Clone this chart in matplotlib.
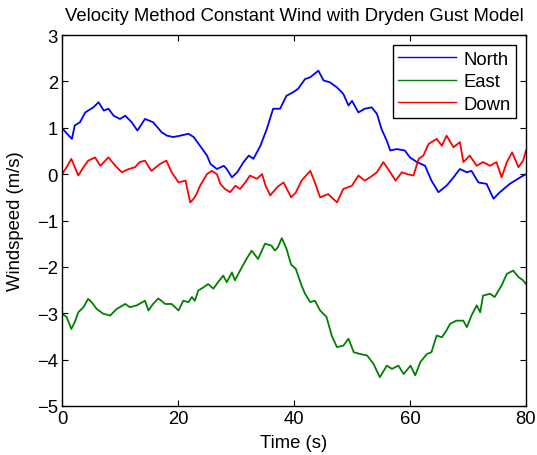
import matplotlib.pyplot as plt

plt.rcParams['font.family'] = ['Liberation Sans', 'DejaVu Sans']

# North (blue)
t_north = [0.0, 0.5, 1.7, 2.2, 3.1, 4.0, 5.4, 6.3, 7.2, 8.0, 8.9, 10.0, 10.9, 12.0, 13.0,
           14.3, 15.7, 17.2, 18.1, 19.2, 20.4, 21.8, 22.7, 23.8, 25.0, 25.6, 26.7, 27.9,
           28.4, 29.3, 30.2, 31.3, 32.2, 33.0, 34.2, 35.3, 36.4, 37.6, 38.7, 39.9, 40.7,
           41.9, 42.8, 44.2, 45.1, 46.2, 47.4, 48.5, 49.4, 50.0, 51.1, 52.2, 53.4, 54.3,
           55.1, 56.0, 56.6, 57.7, 59.1, 60.0, 61.2, 62.6, 63.7, 64.9, 66.3, 67.5, 68.6,
           69.8, 70.6, 71.8, 73.2, 74.4, 75.5, 77.2, 79.0, 80.0]
north = [1.0, 0.92, 0.76, 1.05, 1.12, 1.33, 1.44, 1.55, 1.37, 1.41, 1.26, 1.19, 1.26, 1.12, 0.94,
         1.19, 1.12, 0.90, 0.83, 0.80, 0.83, 0.87, 0.80, 0.61, 0.40, 0.22, 0.11, 0.18,
         0.11, -0.07, 0.04, 0.26, 0.40, 0.33, 0.61, 0.97, 1.41, 1.41, 1.69, 1.77, 1.84,
         2.05, 2.09, 2.23, 2.02, 1.98, 1.87, 1.73, 1.48, 1.58, 1.33, 1.41, 1.44, 1.30,
         0.97, 0.72, 0.51, 0.54, 0.51, 0.36, 0.26, 0.18, -0.14, -0.39, -0.25, -0.07, 0.11,
         0.04, 0.07, -0.18, -0.21, -0.53, -0.39, -0.21, -0.07, 0.0]

# East (green)
t_east = [0.0, 0.8, 1.6, 2.2, 2.8, 3.7, 4.5, 5.1, 6.0, 7.1, 8.3, 9.4, 10.9, 11.7, 12.9,
          14.3, 14.9, 15.7, 16.6, 17.8, 18.9, 20.1, 20.9, 21.8, 22.4, 22.9, 23.5, 24.4,
          25.2, 26.1, 26.9, 27.8, 28.4, 29.3, 29.8, 30.7, 31.8, 32.7, 33.8, 35.0, 36.1,
          36.7, 37.2, 37.9, 38.7, 39.5, 40.3, 41.3, 41.9, 42.8, 43.6, 44.5, 45.6, 46.5,
          47.4, 48.5, 49.4, 50.3, 51.4, 52.6, 53.7, 54.8, 56.0, 56.9, 58.0, 58.9, 60.1,
          60.9, 61.8, 62.9, 63.7, 64.6, 65.5, 66.3, 66.9, 68.0, 69.2, 69.8, 70.6, 71.5,
          72.1, 72.6, 73.8, 74.6, 75.8, 76.7, 77.8, 78.7, 79.5, 80.0]
east = [-3.01, -3.08, -3.34, -3.19, -2.98, -2.87, -2.69, -2.76, -2.91, -3.01, -3.05, -2.91, -2.80, -2.87, -2.83,
        -2.73, -2.94, -2.80, -2.68, -2.80, -2.80, -2.94, -2.73, -2.76, -2.65, -2.73, -2.51, -2.44,
        -2.37, -2.47, -2.33, -2.19, -2.33, -2.12, -2.29, -2.08, -1.83, -1.65, -1.83, -1.50, -1.54,
        -1.65, -1.58, -1.38, -1.61, -1.95, -2.04, -2.40, -2.58, -2.76, -2.73, -2.94, -3.08, -3.48,
        -3.73, -3.70, -3.55, -3.84, -3.88, -3.91, -4.09, -4.38, -4.13, -4.20, -4.13, -4.31, -4.13,
        -4.34, -4.05, -3.88, -3.84, -3.48, -3.52, -3.37, -3.23, -3.16, -3.16, -3.30, -3.05, -2.83,
        -2.98, -2.62, -2.58, -2.65, -2.40, -2.15, -2.08, -2.22, -2.29, -2.37]

# Down (red)
t_down = [0.0, 0.8, 1.6, 2.8, 3.7, 4.5, 5.7, 6.6, 8.0, 9.2, 10.3, 11.5, 12.6, 13.4, 14.3,
          15.4, 16.9, 18.0, 18.9, 20.1, 21.3, 22.1, 22.7, 23.2, 23.8, 25.0, 25.8, 26.7,
          27.3, 28.1, 29.0, 29.9, 30.7, 31.6, 32.4, 33.6, 34.5, 35.1, 35.9, 37.1, 38.2,
          39.5, 40.3, 41.3, 42.8, 43.6, 44.5, 45.9, 47.4, 48.5, 50.0, 51.1, 52.2, 53.1,
          54.3, 55.4, 56.6, 57.5, 58.6, 59.5, 60.6, 61.5, 62.3, 63.2, 64.6, 65.5, 66.3,
          67.5, 68.6, 69.2, 70.3, 71.5, 72.6, 73.8, 74.9, 75.8, 76.7, 77.6, 78.7, 79.5, 80.0]
down = [0.0, 0.15, 0.33, -0.03, 0.15, 0.29, 0.36, 0.18, 0.36, 0.18, 0.04, 0.11, 0.15, 0.26, 0.29,
        0.07, 0.22, 0.29, 0.04, -0.18, -0.14, -0.61, -0.53, -0.43, -0.25, 0.0, 0.07, 0.0,
        -0.21, -0.32, -0.39, -0.25, -0.32, -0.18, -0.03, -0.10, 0.0, -0.25, -0.46, -0.28, -0.18,
        -0.50, -0.40, -0.14, 0.07, -0.18, -0.50, -0.43, -0.61, -0.32, -0.25, -0.03, -0.14, -0.07,
        0.04, 0.26, 0.04, -0.14, 0.04, 0.0, -0.03, 0.33, 0.40, 0.65, 0.76, 0.61, 0.83,
        0.58, 0.69, 0.26, 0.40, 0.18, 0.26, 0.18, 0.26, -0.07, 0.26, 0.47, 0.15, 0.29, 0.51]

fig = plt.figure(figsize=(5.37, 4.56), dpi=100)
ax = fig.add_axes([0.1155, 0.1075, 0.864, 0.8135])

ax.plot(t_north, north, color='#0000ff', lw=1.3, label='North')
ax.plot(t_east, east, color='#008000', lw=1.3, label='East')
ax.plot(t_down, down, color='#ff0000', lw=1.3, label='Down')

ax.set_xlim(0, 80)
ax.set_ylim(-5, 3)
ax.set_xticks([0, 20, 40, 60, 80])
ax.set_yticks(range(-5, 4))
ax.tick_params(direction='in', top=True, right=True, labelsize=13.3, length=4, pad=3)
for s in ax.spines.values():
    s.set_linewidth(1.0)

ax.set_title('Velocity Method Constant Wind with Dryden Gust Model', fontsize=13.3, pad=11)
ax.set_xlabel('Time (s)', fontsize=13.3, labelpad=5)
ax.set_ylabel('Windspeed (m/s)', fontsize=13.3, labelpad=9)

leg = ax.legend(loc='upper right', fontsize=13.3, fancybox=False, edgecolor='black',
                framealpha=1, handlelength=3.1, borderaxespad=0.55, labelspacing=0.3,
                borderpad=0.3, handletextpad=0.4)
leg.get_frame().set_linewidth(1.0)
for line in leg.get_lines():
    line.set_linewidth(1.0)

fig.savefig('out.png', dpi=100)
